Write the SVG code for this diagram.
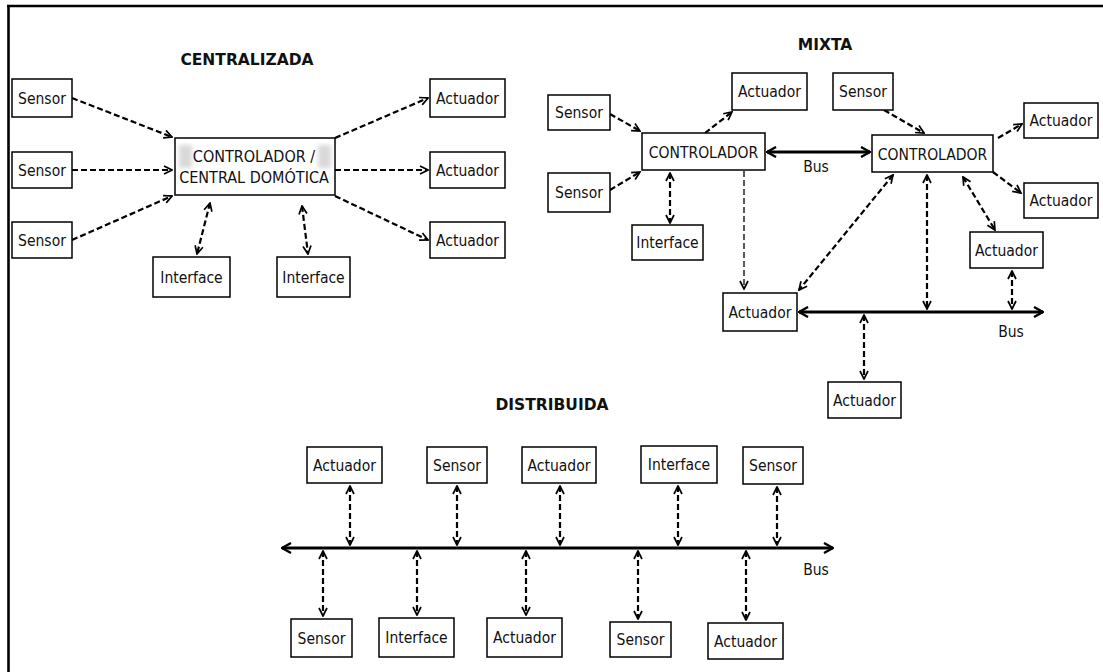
<svg xmlns="http://www.w3.org/2000/svg" width="1103" height="672" viewBox="0 0 1103 672">
  <style>
    .box { fill: #fff; stroke: #000; stroke-width: 1.5; }
    .lbl { font-family: "DejaVu Sans Condensed", "DejaVu Sans", sans-serif; font-size: 15.5px; fill: #111; text-anchor: middle; }
    .ctl { font-size: 16px; }
    .title { font-family: "DejaVu Sans", sans-serif; font-weight: bold; font-size: 15.5px; fill: #111; text-anchor: middle; }
    .dash { fill: none; stroke: #000; stroke-width: 2.2; stroke-dasharray: 6 3; }
    .thin { stroke-width: 1.3; stroke-dasharray: 6 3; }
    .one { marker-end: url(#ah); }
    .two { marker-start: url(#ah); marker-end: url(#ah); }
    .bus { fill: none; stroke: #000; stroke-width: 3; marker-start: url(#bh); marker-end: url(#bh); }
    .smudge { fill: #d9d9d9; }
  </style>
  <defs>
    <marker id="ah" viewBox="0 0 10 10" refX="9" refY="5" markerWidth="10" markerHeight="10" markerUnits="userSpaceOnUse" orient="auto-start-reverse">
      <path d="M1,1 L9,5 L1,9" fill="none" stroke="#000" stroke-width="1.7"/>
    </marker>
    <marker id="bh" viewBox="0 0 12 12" refX="11" refY="6" markerWidth="12" markerHeight="12" markerUnits="userSpaceOnUse" orient="auto-start-reverse">
      <path d="M2,1 L11,6 L2,11" fill="none" stroke="#000" stroke-width="2.4"/>
    </marker>
    <filter id="soft" x="-50%" y="-50%" width="200%" height="200%">
      <feGaussianBlur stdDeviation="2"/>
    </filter>
  </defs>

  <!-- page frame (top and left rules) -->
  <g id="frame" stroke="#000" stroke-width="2.6">
    <line x1="7" y1="6" x2="1103" y2="6"/>
    <line x1="8.5" y1="5" x2="8.5" y2="672"/>
  </g>

  <!-- section titles -->
  <g id="titles">
    <text class="title" x="247" y="65">CENTRALIZADA</text>
    <text class="title" x="825" y="50">MIXTA</text>
    <text class="title" x="552" y="410">DISTRIBUIDA</text>
  </g>

  <!-- connectors -->
  <g id="connectors">
    <!-- centralised -->
    <path class="dash one" d="M72,98 L172,137"/>
    <path class="dash one" d="M72,170 L172,170"/>
    <path class="dash one" d="M72,240 L172,196"/>
    <path class="dash one" d="M335,138 L428,98"/>
    <path class="dash one" d="M335,170 L428,170"/>
    <path class="dash one" d="M335,196 L428,240"/>
    <path class="dash two" d="M210,203 L197,254"/>
    <path class="dash two" d="M302,206 L308,254"/>

    <!-- mixed -->
    <path class="dash one" d="M610,114 L640,131"/>
    <path class="dash one" d="M610,190 L640,172"/>
    <path class="dash one" d="M705,133 L732,112"/>
    <path class="dash two" d="M670,173 L670,223"/>
    <path class="dash thin one" d="M744,171 L744,289"/>
    <path class="bus" d="M767,152 L870,152"/>
    <path class="dash one" d="M884,110 L924,133"/>
    <path class="dash one" d="M998,138 L1022,124"/>
    <path class="dash one" d="M993,172 L1021,193"/>
    <path class="dash two" d="M963,177 L995,230"/>
    <path class="dash two" d="M893,175 L799,290"/>
    <path class="dash two" d="M927,175 L927,309"/>
    <path class="dash two" d="M1012,271 L1012,309"/>
    <path class="bus" d="M799,312 L1043,312"/>
    <path class="dash two" d="M864,315 L864,379"/>

    <!-- distributed -->
    <path class="bus" d="M282,548 L833,548"/>
    <path class="dash two" d="M350,486 L350,545"/>
    <path class="dash two" d="M457,486 L457,545"/>
    <path class="dash two" d="M560,486 L560,545"/>
    <path class="dash two" d="M678,486 L678,545"/>
    <path class="dash two" d="M777,487 L777,545"/>
    <path class="dash two" d="M323,551 L323,616"/>
    <path class="dash two" d="M417,551 L417,615"/>
    <path class="dash two" d="M526,551 L526,615"/>
    <path class="dash two" d="M638,551 L638,619"/>
    <path class="dash two" d="M746,551 L746,620"/>

    <text class="lbl" x="816" y="172">Bus</text>
    <text class="lbl" x="1011" y="337">Bus</text>
    <text class="lbl" x="816" y="575">Bus</text>
  </g>

  <!-- centralised architecture -->
  <g id="c-sensor-1"><rect class="box" x="12" y="79" width="60" height="38"/><text class="lbl" x="42" y="103.5">Sensor</text></g>
  <g id="c-sensor-2"><rect class="box" x="12" y="152" width="60" height="36"/><text class="lbl" x="42" y="175.5">Sensor</text></g>
  <g id="c-sensor-3"><rect class="box" x="12" y="222" width="60" height="36"/><text class="lbl" x="42" y="245.5">Sensor</text></g>
  <g id="c-controller">
    <rect class="box" x="175" y="138" width="160" height="57"/>
    <rect class="smudge" x="179" y="145" width="13" height="23" filter="url(#soft)"/>
    <rect class="smudge" x="318" y="145" width="13" height="23" filter="url(#soft)"/>
    <text class="lbl ctl" x="254" y="162">CONTROLADOR /</text>
    <text class="lbl ctl" x="254" y="183">CENTRAL DOMÓTICA</text>
  </g>
  <g id="c-actuator-1"><rect class="box" x="430" y="79" width="75" height="38"/><text class="lbl" x="467.5" y="103.5">Actuador</text></g>
  <g id="c-actuator-2"><rect class="box" x="430" y="152" width="75" height="36"/><text class="lbl" x="467.5" y="175.5">Actuador</text></g>
  <g id="c-actuator-3"><rect class="box" x="430" y="222" width="75" height="36"/><text class="lbl" x="467.5" y="245.5">Actuador</text></g>
  <g id="c-interface-1"><rect class="box" x="153" y="257" width="77" height="40"/><text class="lbl" x="191.5" y="282.5">Interface</text></g>
  <g id="c-interface-2"><rect class="box" x="277" y="257" width="73" height="40"/><text class="lbl" x="313.5" y="282.5">Interface</text></g>

  <!-- mixed architecture -->
  <g id="m-sensor-1"><rect class="box" x="548" y="95" width="62" height="35"/><text class="lbl" x="579" y="118">Sensor</text></g>
  <g id="m-sensor-2"><rect class="box" x="548" y="173" width="62" height="39"/><text class="lbl" x="579" y="198">Sensor</text></g>
  <g id="m-actuator-top"><rect class="box" x="732" y="73" width="75" height="37"/><text class="lbl" x="769.5" y="97">Actuador</text></g>
  <g id="m-controller-1"><rect class="box" x="642" y="133" width="123" height="37"/><text class="lbl" x="703.5" y="157.5">CONTROLADOR</text></g>
  <g id="m-interface"><rect class="box" x="632" y="225" width="71" height="35"/><text class="lbl" x="667.5" y="248">Interface</text></g>
  <g id="m-sensor-3"><rect class="box" x="833" y="73" width="60" height="37"/><text class="lbl" x="863" y="97">Sensor</text></g>
  <g id="m-controller-2"><rect class="box" x="872" y="135" width="121" height="37"/><text class="lbl" x="932.5" y="159.5">CONTROLADOR</text></g>
  <g id="m-actuator-r1"><rect class="box" x="1024" y="103" width="74" height="35"/><text class="lbl" x="1061" y="126">Actuador</text></g>
  <g id="m-actuator-r2"><rect class="box" x="1024" y="183" width="74" height="35"/><text class="lbl" x="1061" y="206">Actuador</text></g>
  <g id="m-actuator-r3"><rect class="box" x="970" y="232" width="73" height="36"/><text class="lbl" x="1006.5" y="255.5">Actuador</text></g>
  <g id="m-actuator-bus"><rect class="box" x="723" y="293" width="74" height="38"/><text class="lbl" x="760" y="317.5">Actuador</text></g>
  <g id="m-actuator-bottom"><rect class="box" x="828" y="382" width="73" height="36"/><text class="lbl" x="864.5" y="405.5">Actuador</text></g>

  <!-- distributed architecture -->
  <g id="d-top-actuator-1"><rect class="box" x="307" y="447" width="75" height="36"/><text class="lbl" x="344.5" y="470.5">Actuador</text></g>
  <g id="d-top-sensor-1"><rect class="box" x="427" y="447" width="60" height="36"/><text class="lbl" x="457" y="470.5">Sensor</text></g>
  <g id="d-top-actuator-2"><rect class="box" x="522" y="447" width="74" height="36"/><text class="lbl" x="559" y="470.5">Actuador</text></g>
  <g id="d-top-interface"><rect class="box" x="641" y="446" width="76" height="37"/><text class="lbl" x="679" y="470">Interface</text></g>
  <g id="d-top-sensor-2"><rect class="box" x="743" y="447" width="60" height="37"/><text class="lbl" x="773" y="471">Sensor</text></g>
  <g id="d-bottom-sensor-1"><rect class="box" x="291" y="619" width="61" height="38"/><text class="lbl" x="321.5" y="643.5">Sensor</text></g>
  <g id="d-bottom-interface"><rect class="box" x="379" y="618" width="75" height="39"/><text class="lbl" x="416.5" y="643">Interface</text></g>
  <g id="d-bottom-actuator-1"><rect class="box" x="487" y="618" width="75" height="39"/><text class="lbl" x="524.5" y="643">Actuador</text></g>
  <g id="d-bottom-sensor-2"><rect class="box" x="610" y="622" width="61" height="35"/><text class="lbl" x="640.5" y="645">Sensor</text></g>
  <g id="d-bottom-actuator-2"><rect class="box" x="708" y="623" width="75" height="36"/><text class="lbl" x="745.5" y="646.5">Actuador</text></g>
</svg>
